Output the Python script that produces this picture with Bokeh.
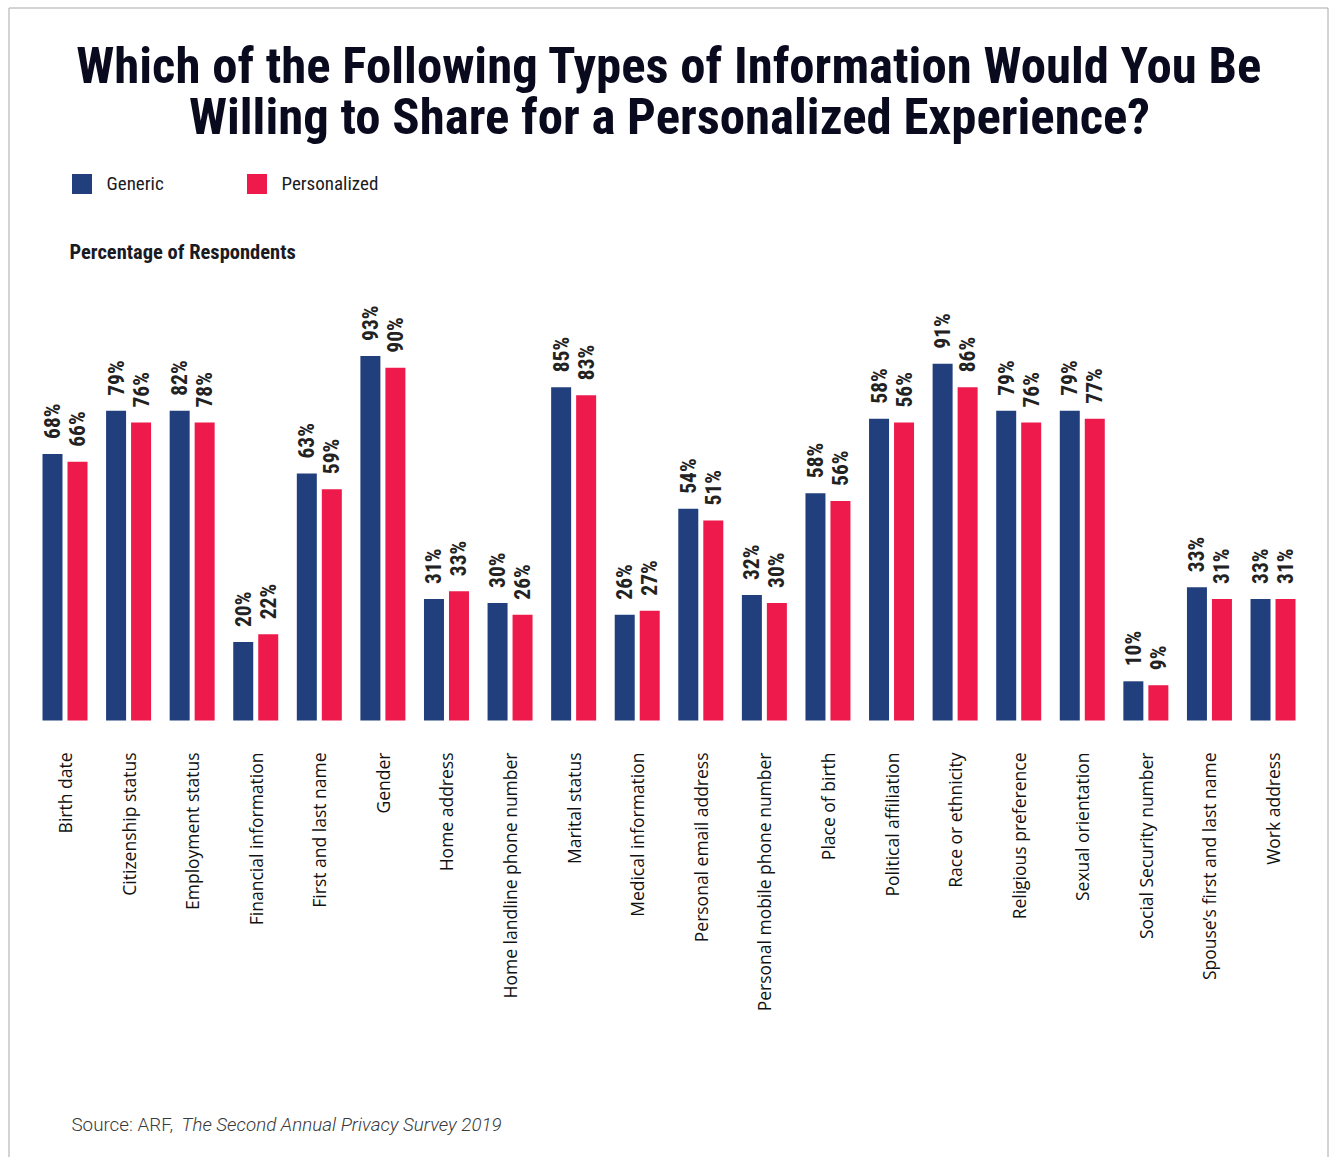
import math
from bokeh.plotting import figure
from bokeh.models import ColumnDataSource, Range1d, Label, Legend, LegendItem
from bokeh.core.properties import value
from bokeh.embed import file_html
from bokeh.resources import INLINE

# ---------------- data ----------------
categories = [
    "Birth date", "Citizenship status", "Employment status", "Financial information",
    "First and last name", "Gender", "Home address", "Home landline phone number",
    "Marital status", "Medical information", "Personal email address",
    "Personal mobile phone number", "Place of birth", "Political affiliation",
    "Race or ethnicity", "Religious preference", "Sexual orientation",
    "Social Security number", "Spouse\u2019s first and last name", "Work address",
]
# bar heights as drawn in the picture (percent of respondents)
generic = [68, 79, 79, 20, 63, 93, 31, 30, 85, 27, 54, 32, 58, 77, 91, 79, 79, 10, 34, 31]
personalized = [66, 76, 76, 22, 59, 90, 33, 27, 83, 28, 51, 30, 56, 76, 85, 76, 77, 9, 31, 31]
# value labels as printed above the bars
generic_labels = ["68%", "79%", "82%", "20%", "63%", "93%", "31%", "30%", "85%", "26%",
                  "54%", "32%", "58%", "58%", "91%", "79%", "79%", "10%", "33%", "33%"]
personalized_labels = ["66%", "76%", "78%", "22%", "59%", "90%", "33%", "26%", "83%", "27%",
                       "51%", "30%", "56%", "56%", "86%", "76%", "77%", "9%", "31%", "31%"]
series_names = ["Generic", "Personalized"]

title_lines = ["Which of the Following Types of Information Would You Be",
               "Willing to Share for a Personalized Experience?"]
y_caption = "Percentage of Respondents"
source_plain = "Source: ARF, "
source_italic = "The Second Annual Privacy Survey 2019"

# ---------------- styles ----------------
NAVY = "#223F7D"
RED = "#EE1A4B"
INK = "#1A1A22"
NARROW = "Roboto Condensed, Liberation Sans Narrow, Roboto, sans-serif"
HEAVY = "Roboto Condensed Black, Roboto Condensed, Roboto, sans-serif"
LIGHT = "Roboto Light, Roboto, sans-serif"

W, H = 1329, 1157
PX_PER_CAT = 63.58
LEFT_PAD = 64.5          # px from canvas left to first category centre
BASE = 720               # px from canvas top to baseline
PX_PER_PCT = 3.92

x_start = -LEFT_PAD / PX_PER_CAT
x_end = (W - LEFT_PAD) / PX_PER_CAT
y_end = BASE / PX_PER_PCT
y_start = -(H - BASE) / PX_PER_PCT

p = figure(width=W, height=H, output_backend="svg", toolbar_location=None,
           x_range=Range1d(x_start, x_end), y_range=Range1d(y_start, y_end),
           min_border=0, tools="")
p.axis.visible = False
p.grid.visible = False
p.outline_line_color = None
p.background_fill_color = "white"
p.border_fill_color = "white"

idx = list(range(len(categories)))
off = 12.5 / PX_PER_CAT
bw = 20 / PX_PER_CAT

src = ColumnDataSource(dict(
    x=idx, cat=categories, g=generic, pz=personalized,
    gl=generic_labels, pl=personalized_labels,
    xg=[i - off for i in idx], xp=[i + off for i in idx],
))

rg = p.vbar(x="xg", top="g", width=bw, bottom=0, source=src,
            fill_color=NAVY, line_color=None)
rp = p.vbar(x="xp", top="pz", width=bw, bottom=0, source=src,
            fill_color=RED, line_color=None)

lab_kw = dict(angle=math.pi / 2, text_align="left", text_baseline="middle",
              y_offset=-15, text_font=value(NARROW), text_font_style="bold",
              text_font_size="21.5px", text_color="#222222")
p.text(x="xg", y="g", text="gl", source=src, **lab_kw)
p.text(x="xp", y="pz", text="pl", source=src, **lab_kw)

# category labels under the baseline
p.text(x="x", y=0, text="cat", source=src, angle=math.pi / 2,
       text_align="right", text_baseline="middle", y_offset=32,
       text_font=value("Open Sans"), text_font_size="17.5px", text_color="#111111")

# frame border (left, top, right)
bx0 = x_start + 8.5 / PX_PER_CAT
bx1 = x_start + 1327.5 / PX_PER_CAT
by1 = y_end - 7.5 / PX_PER_PCT
p.line(x=[bx0, bx0, bx1, bx1], y=[y_start, by1, by1, y_start],
       line_color="#a8a8a8", line_width=1)

# legend
legend = Legend(items=[LegendItem(label=series_names[0], renderers=[rg]),
                       LegendItem(label=series_names[1], renderers=[rp])],
                orientation="horizontal", location=(68.5, H - 170.5 - 25),
                glyph_width=25, glyph_height=25, label_standoff=13,
                label_width=120, label_height=20, spacing=17, padding=0, margin=0,
                border_line_color=None, background_fill_alpha=0,
                label_text_font=NARROW, label_text_font_size="19px",
                label_text_color=INK)
p.add_layout(legend)

# title
for line, py in zip(title_lines, [64.5, 115.5]):
    p.add_layout(Label(x=669, y=H - py, x_units="screen", y_units="screen",
                       text=line, text_align="center", text_baseline="middle",
                       text_font=HEAVY, text_font_style="bold", text_font_size="50.8px",
                       text_color="#0A0A1E"))

p.add_layout(Label(x=69, y=H - 251, x_units="screen", y_units="screen",
                   text=y_caption, text_baseline="middle", text_font=NARROW,
                   text_font_style="bold", text_font_size="20.5px", text_color=INK))

p.add_layout(Label(x=71, y=H - 1124, x_units="screen", y_units="screen",
                   text=source_plain, text_baseline="middle", text_font=LIGHT,
                   text_font_size="18.8px", text_color="#3a3a3a"))
p.add_layout(Label(x=181, y=H - 1124, x_units="screen", y_units="screen",
                   text=source_italic, text_baseline="middle", text_font=LIGHT,
                   text_font_style="italic", text_font_size="18.8px", text_color="#3a3a3a"))

open("out.html", "w").write(file_html(p, INLINE))
